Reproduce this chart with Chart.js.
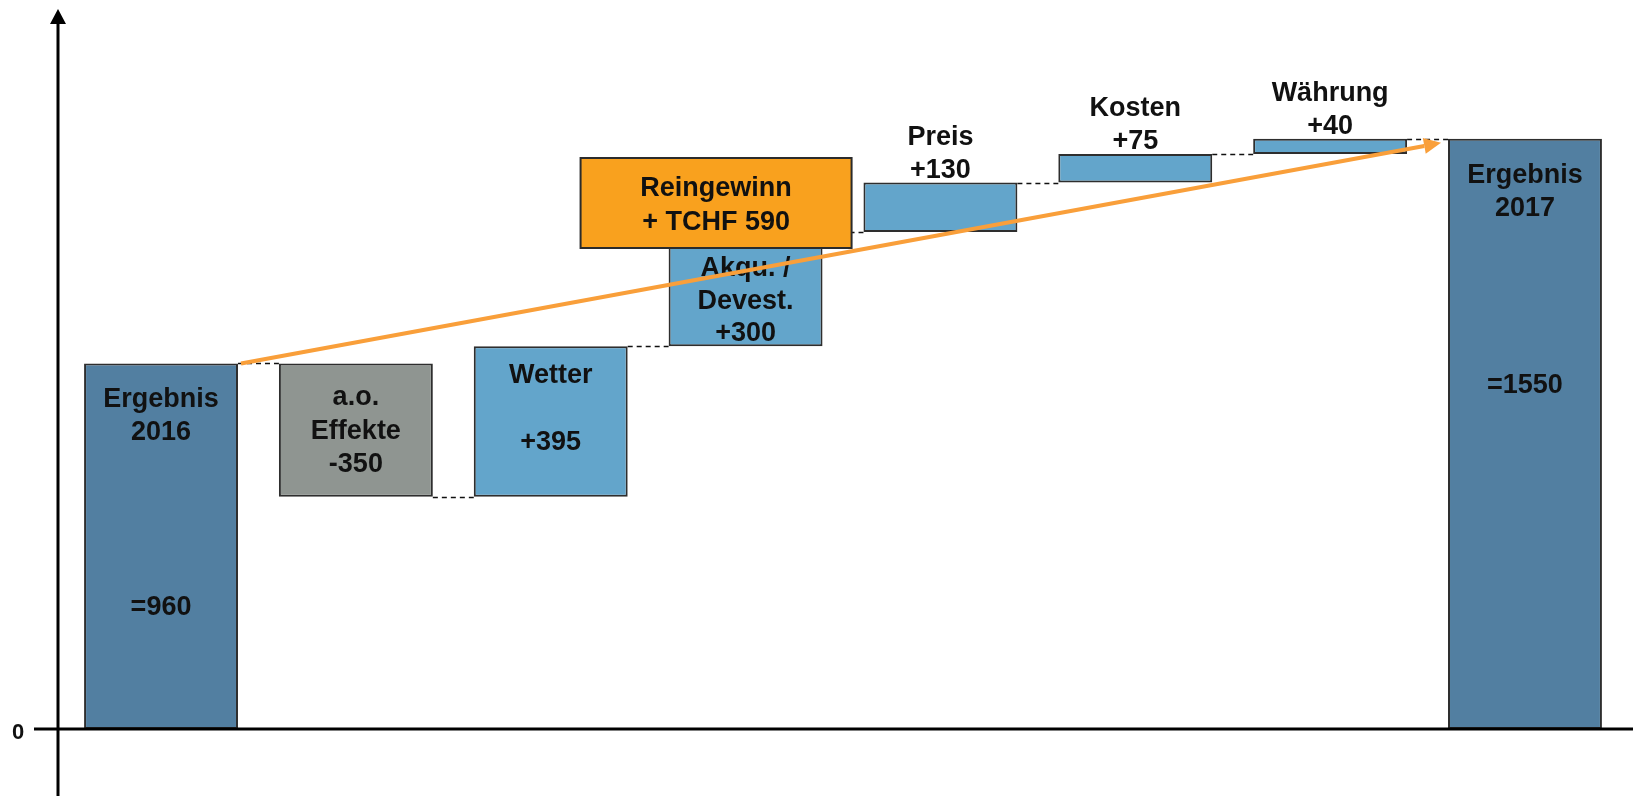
<!DOCTYPE html>
<html>
<head>
<meta charset="utf-8">
<script src="https://cdn.jsdelivr.net/npm/chart.js@4/dist/chart.umd.min.js"></script>
<style>
  html, body { margin: 0; padding: 0; background: #fff; }
  #wrap { width: 1633px; height: 796px; position: relative; }
</style>
</head>
<body>
<div id="wrap"><canvas id="c"></canvas></div>
<script>
// ═══ DATA ═══
const categories = ["Ergebnis 2016", "a.o. Effekte", "Wetter", "Akqu. / Devest.", "Preis", "Kosten", "Währung", "Ergebnis 2017"];
const changes    = [960, -350, 395, 300, 130, 75, 40, 1550];
const isTotal    = [true, false, false, false, false, false, false, true];
const nameLines  = [["Ergebnis", "2016"], ["a.o.", "Effekte"], ["Wetter"], ["Akqu. /", "Devest."], ["Preis"], ["Kosten"], ["Währung"], ["Ergebnis", "2017"]];
const valueLabels = ["=960", "-350", "+395", "+300", "+130", "+75", "+40", "=1550"];
const calloutLines = ["Reingewinn", "+ TCHF 590"];
const zeroTick = "0";

// ═══ COLOURS / FONT ═══
const C_TOTAL = "#527FA1";
const C_UP    = "#63A5CB";
const C_DOWN  = "#8F9591";
const C_BOX   = "#F9A11E";
const C_ARROW = "#F99F3A";
const FONT    = "bold 27px 'Liberation Sans', Arial, sans-serif";

// floating bars [start, end] built from the changes
let run = 0;
const floats = changes.map((v, i) => {
  if (isTotal[i]) { run = v; return [0, v]; }
  const a = run; run += v;
  return [Math.min(a, run), Math.max(a, run)];
});
const levels = [];
run = 0;
changes.forEach((v, i) => { run = isTotal[i] ? v : run + v; levels.push(run); });
const colors = changes.map((v, i) => isTotal[i] ? C_TOTAL : (v < 0 ? C_DOWN : C_UP));

// baseline offsets of text lines relative to bar top (negative = above bar)
const labelOffsets = [
  [44, 77, 252],
  [42, 76, 109],
  [37, 104],
  [44, 77, 109],
  [-38, -5],
  [-38, -5],
  [-38, -5],
  [44, 77, 254]
];

const decorPlugin = {
  id: "decor",
  afterDatasetsDraw(chart) {
    const { ctx } = chart;
    const ys = chart.scales.y;
    const meta = chart.getDatasetMeta(0);
    const bars = meta.data.map(b => {
      const p = b.getProps(["x", "y", "base", "width"], true);
      return { left: p.x - p.width / 2, right: p.x + p.width / 2, x: p.x, top: Math.min(p.y, p.base) };
    });
    ctx.save();

    // dashed connectors
    ctx.strokeStyle = "#111";
    ctx.lineWidth = 1.3;
    ctx.setLineDash([5, 4]);
    for (let i = 0; i < bars.length - 1; i++) {
      const y = Math.round(ys.getPixelForValue(levels[i])) + 0.5;
      ctx.beginPath();
      ctx.moveTo(bars[i].right, y);
      ctx.lineTo(bars[i + 1].left, y);
      ctx.stroke();
    }
    ctx.setLineDash([]);

    // bar labels
    ctx.fillStyle = "#111";
    ctx.font = FONT;
    ctx.textAlign = "center";
    ctx.textBaseline = "alphabetic";
    bars.forEach((b, i) => {
      const lines = [...nameLines[i], valueLabels[i]];
      lines.forEach((t, k) => ctx.fillText(t, b.x, b.top + labelOffsets[i][k]));
    });

    // axes
    const y0 = ys.getPixelForValue(0);
    ctx.strokeStyle = "#000";
    ctx.lineWidth = 3;
    ctx.beginPath();
    ctx.moveTo(34, y0); ctx.lineTo(chart.width, y0);
    ctx.moveTo(58, chart.height); ctx.lineTo(58, 22);
    ctx.stroke();
    ctx.fillStyle = "#000";
    ctx.beginPath();
    ctx.moveTo(50, 24); ctx.lineTo(66, 24); ctx.lineTo(58, 9); ctx.closePath();
    ctx.fill();
    ctx.fillStyle = "#111";
    ctx.font = "bold 22px 'Liberation Sans', Arial, sans-serif";
    ctx.fillText(zeroTick, 18, y0 + 10);

    // callout box
    const bx = bars[3].x - 165, bw = 271, by = 158, bh = 90;
    ctx.fillStyle = C_BOX;
    ctx.fillRect(bx, by, bw, bh);
    ctx.strokeStyle = "#2b2b2b";
    ctx.lineWidth = 2;
    ctx.strokeRect(bx, by, bw, bh);
    ctx.fillStyle = "#111";
    ctx.font = FONT;
    ctx.fillText(calloutLines[0], bx + bw / 2, by + 38);
    ctx.fillText(calloutLines[1], bx + bw / 2, by + 72);

    // orange trend arrow
    const x1 = bars[0].right + 3, y1 = ys.getPixelForValue(levels[0]);
    const x2 = bars[bars.length - 1].left - 7, y2 = ys.getPixelForValue(levels[levels.length - 1]) + 4;
    const ang = Math.atan2(y2 - y1, x2 - x1);
    const hl = 17, hw = 8;
    const xb = x2 - hl * Math.cos(ang), yb = y2 - hl * Math.sin(ang);
    ctx.strokeStyle = C_ARROW;
    ctx.lineWidth = 4;
    ctx.beginPath();
    ctx.moveTo(x1, y1); ctx.lineTo(xb, yb);
    ctx.stroke();
    ctx.fillStyle = C_ARROW;
    ctx.beginPath();
    ctx.moveTo(x2, y2);
    ctx.lineTo(xb + hw * Math.sin(ang), yb - hw * Math.cos(ang));
    ctx.lineTo(xb - hw * Math.sin(ang), yb + hw * Math.cos(ang));
    ctx.closePath();
    ctx.fill();

    ctx.restore();
  }
};

new Chart(document.getElementById("c"), {
  type: "bar",
  data: {
    labels: categories,
    datasets: [{
      data: floats,
      backgroundColor: colors,
      borderColor: "#2e2e2e",
      borderWidth: 2,
      borderSkipped: false,
      barPercentage: 0.79,
      categoryPercentage: 1.0
    }]
  },
  options: {
    responsive: true,
    maintainAspectRatio: false,
    animation: false,
    layout: { padding: { left: 63.6, right: 10.6, top: 9, bottom: 0 } },
    plugins: { legend: { display: false }, tooltip: { enabled: false } },
    scales: {
      x: { display: false },
      y: { display: false, min: -176, max: 1891 }
    }
  },
  plugins: [decorPlugin]
});
</script>
</body>
</html>
